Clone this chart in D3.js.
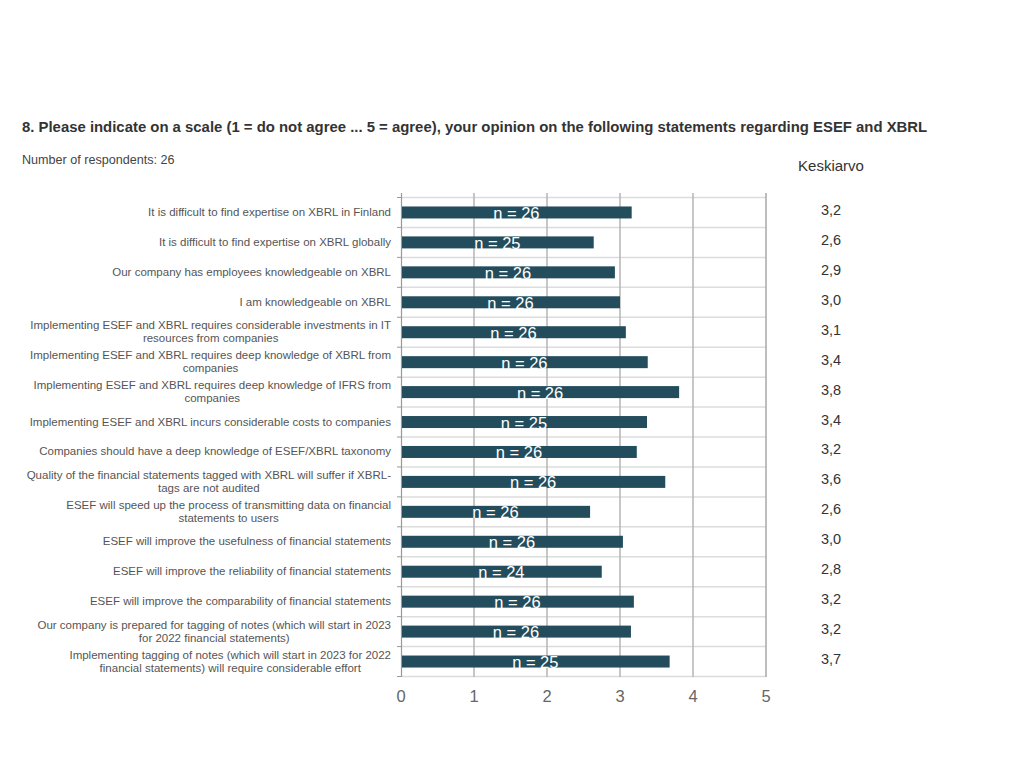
<!DOCTYPE html>
<html>
<head>
<meta charset="utf-8">
<script src="https://cdn.jsdelivr.net/npm/d3@7"></script>
<style>
  html, body { margin: 0; padding: 0; background: #fff; }
  svg { display: block; font-family: Helvetica, Arial, "Liberation Sans", sans-serif; }
</style>
</head>
<body>
<svg id="chart" width="1024" height="768"></svg>
<script>
const titleText = "8. Please indicate on a scale (1 = do not agree ... 5 = agree), your opinion on the following statements regarding ESEF and XBRL";
const subtitleText = "Number of respondents: 26";
const meanHeader = "Keskiarvo";

const categories = [
  "It is difficult to find expertise on XBRL in Finland",
  "It is difficult to find expertise on XBRL globally",
  "Our company has employees knowledgeable on XBRL",
  "I am knowledgeable on XBRL",
  "Implementing ESEF and XBRL requires considerable investments in IT resources from companies",
  "Implementing ESEF and XBRL requires deep knowledge of XBRL from companies",
  "Implementing ESEF and XBRL requires deep knowledge of IFRS from companies",
  "Implementing ESEF and XBRL incurs considerable costs to companies",
  "Companies should have a deep knowledge of ESEF/XBRL taxonomy",
  "Quality of the financial statements tagged with XBRL will suffer if XBRL-tags are not audited",
  "ESEF will speed up the process of transmitting data on financial statements to users",
  "ESEF will improve the usefulness of financial statements",
  "ESEF will improve the reliability of financial statements",
  "ESEF will improve the comparability of financial statements",
  "Our company is prepared for tagging of notes (which will start in 2023 for 2022 financial statements)",
  "Implementing tagging of notes (which will start in 2023 for 2022 financial statements) will require considerable effort"
];
const means = [3.16, 2.64, 2.93, 3.0, 3.08, 3.38, 3.81, 3.37, 3.23, 3.62, 2.59, 3.04, 2.75, 3.19, 3.15, 3.68];
const meanLabels = ["3,2","2,6","2,9","3,0","3,1","3,4","3,8","3,4","3,2","3,6","2,6","3,0","2,8","3,2","3,2","3,7"];
const counts = [26, 25, 26, 26, 26, 26, 26, 25, 26, 26, 26, 26, 24, 26, 26, 25];
const xTicks = [0, 1, 2, 3, 4, 5];

const svg = d3.select("#chart");
const x = d3.scaleLinear().domain([0, 5]).range([401, 766]);
const y = d3.scaleBand().domain(categories).range([197, 676]).padding(0);
const barH = 12;

// title
svg.append("text").attr("x", 22).attr("y", 132)
  .attr("font-size", 14.9).attr("font-weight", "bold").attr("fill", "#333")
  .text(titleText);
svg.append("text").attr("x", 22).attr("y", 164)
  .attr("font-size", 12.6).attr("fill", "#444")
  .text(subtitleText);
svg.append("text").attr("x", 831).attr("y", 171)
  .attr("font-size", 15).attr("fill", "#333").attr("text-anchor", "middle")
  .text(meanHeader);

// horizontal grid lines at band boundaries
const bounds = categories.map(c => y(c)).concat([y.range()[1]]);
svg.append("g").selectAll("line").data(bounds).join("line")
  .attr("x1", x(0)).attr("x2", x(5))
  .attr("y1", d => d + 0.5).attr("y2", d => d + 0.5)
  .attr("stroke", "#dcdcdc").attr("stroke-width", 1.5);

// vertical grid lines
svg.append("g").selectAll("line").data(xTicks.filter(t => t > 0)).join("line")
  .attr("x1", d => x(d)).attr("x2", d => x(d))
  .attr("y1", 193).attr("y2", 677)
  .attr("stroke", d => d === 5 ? "#a8a8a8" : "#b5b5b5").attr("stroke-width", 1.5);

// left axis with ticks at band boundaries
svg.append("line").attr("x1", x(0) + 0.5).attr("x2", x(0) + 0.5)
  .attr("y1", 193).attr("y2", 677).attr("stroke", "#999").attr("stroke-width", 1.2);
svg.append("g").selectAll("line").data(bounds).join("line")
  .attr("x1", x(0) - 4).attr("x2", x(0))
  .attr("y1", d => d + 0.5).attr("y2", d => d + 0.5)
  .attr("stroke", "#999");

// bars
svg.append("g").selectAll("rect").data(categories).join("rect")
  .attr("x", x(0) + 1)
  .attr("y", d => y(d) + y.bandwidth() / 2 - barH / 2 + 0.5)
  .attr("width", (d, i) => x(means[i]) - x(0) - 1)
  .attr("height", barH)
  .attr("fill", "#234d5c");

// n labels
svg.append("g").selectAll("text").data(categories).join("text")
  .attr("x", (d, i) => (x(0) + x(means[i])) / 2)
  .attr("y", d => y(d) + y.bandwidth() / 2 + 7)
  .attr("text-anchor", "middle").attr("font-size", 16.5).attr("fill", "#fff")
  .text((d, i) => "n = " + counts[i]);

// mean labels
svg.append("g").selectAll("text").data(categories).join("text")
  .attr("x", 831)
  .attr("y", d => y(d) + y.bandwidth() / 2 + 3)
  .attr("text-anchor", "middle").attr("font-size", 14.5).attr("fill", "#333")
  .text((d, i) => meanLabels[i]);

// x axis tick labels
svg.append("g").selectAll("text").data(xTicks).join("text")
  .attr("x", d => x(d)).attr("y", 702)
  .attr("text-anchor", "middle").attr("font-size", 16.5).attr("fill", "#666")
  .text(d => d);

// category labels, wrapped (spaces and hyphens), centered block right-aligned at 391
const maxW = 366, lineH = 13, rightEdge = 391;
const labG = svg.append("g").attr("font-size", 11.5).attr("fill", "#555");
categories.forEach(c => {
  // tokens keep their trailing separator
  const tokens = c.match(/[^ \-]+(-| |$)/g).filter(s => s.length);
  const tmp = labG.append("text");
  const lines = [];
  let cur = "";
  tokens.forEach(tk => {
    const test = cur + tk;
    tmp.text(test.trim());
    if (tmp.node().getComputedTextLength() > maxW && cur.length) {
      lines.push(cur.trim());
      cur = tk;
    } else cur = test;
  });
  lines.push(cur.trim());
  const widths = lines.map(l => { tmp.text(l); return tmp.node().getComputedTextLength(); });
  tmp.remove();
  const blockW = d3.max(widths);
  const cx = rightEdge - blockW / 2;
  const cy = y(c) + y.bandwidth() / 2;
  const t = labG.append("text").attr("text-anchor", "middle");
  lines.forEach((l, k) => {
    t.append("tspan").attr("x", cx)
      .attr("y", cy + 4 + (k - (lines.length - 1) / 2) * lineH)
      .text(l);
  });
});
</script>
</body>
</html>
